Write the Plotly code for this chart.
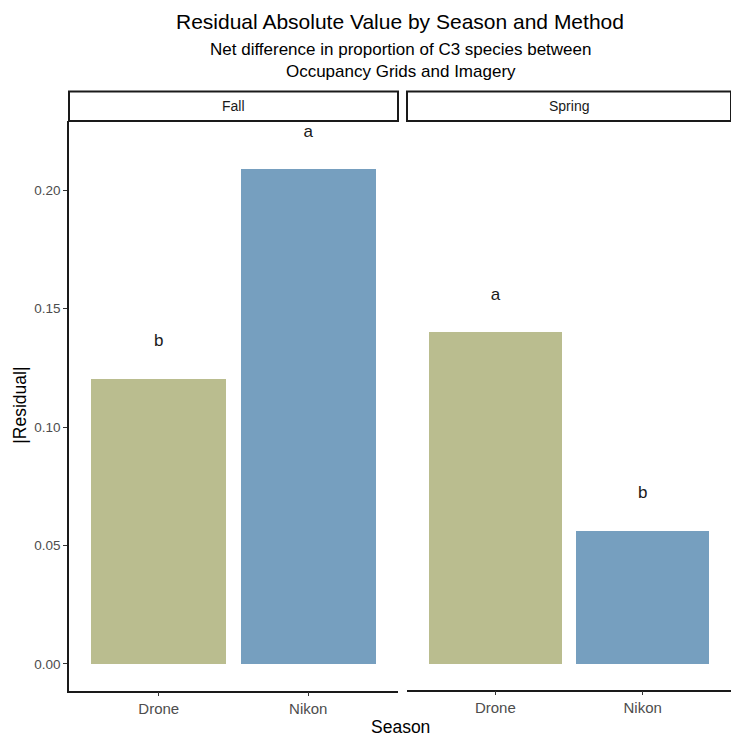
import plotly.graph_objects as go

# Mean absolute residuals by season and imaging method
seasons = ["Fall", "Spring"]
methods = ["Drone", "Nikon"]
residual_fall = [0.1205, 0.2089]
residual_spring = [0.1400, 0.0563]
letters_fall = ["b", "a"]
letters_spring = ["a", "b"]
label_offset = 0.0155

method_colors = {"Drone": "#BABD8F", "Nikon": "#769FBF"}

W, H = 731, 736


def px_x(p):
    return p / W


def px_y(p):
    return 1 - p / H


panel_top, panel_bottom = 121, 690.5
domains = [(px_x(69), px_x(398)), (px_x(407), 1.0)]
ydom = [px_y(panel_bottom), px_y(panel_top)]

fig = go.Figure()
font_family = "Liberation Sans, Arial, sans-serif"

series = [residual_fall, residual_spring]
letters = [letters_fall, letters_spring]
for i, season in enumerate(seasons):
    xa = "x" if i == 0 else "x2"
    fig.add_trace(go.Bar(
        x=methods, y=series[i], width=0.9,
        marker=dict(color=[method_colors[m] for m in methods], line=dict(width=0)),
        xaxis=xa, yaxis="y", showlegend=False, hoverinfo="x+y",
    ))
    fig.add_trace(go.Scatter(
        x=methods, y=[v + label_offset for v in series[i]],
        text=letters[i], mode="text", textposition="middle center",
        textfont=dict(size=17, color="#1a1a1a", family=font_family),
        xaxis=xa, yaxis="y", showlegend=False, hoverinfo="skip",
    ))

axis_common = dict(
    showline=True, linecolor="#1a1a1a", linewidth=1.5, mirror=False,
    ticks="outside", ticklen=4, tickcolor="#333333", tickwidth=1,
    showgrid=False, zeroline=False,
)
xtickfont = dict(size=15, color="#4D4D4D", family=font_family)
ytickfont = dict(size=13.5, color="#4D4D4D", family=font_family)

fig.update_layout(
    width=W, height=H,
    margin=dict(l=0, r=0, t=0, b=0),
    plot_bgcolor="white", paper_bgcolor="white",
    bargap=0,
    xaxis=dict(domain=list(domains[0]), anchor="y", range=[-0.6, 1.6],
               type="category", tickfont=xtickfont, **axis_common),
    xaxis2=dict(domain=list(domains[1]), anchor="free", position=ydom[0],
                range=[-0.6, 1.6], type="category", tickfont=xtickfont,
                **axis_common),
    yaxis=dict(domain=ydom, anchor="x", range=[-0.0112, 0.2292],
               tickvals=[0, 0.05, 0.10, 0.15, 0.20],
               ticktext=["0.00", "0.05", "0.10", "0.15", "0.20"],
               tickfont=ytickfont, **axis_common),
)


def label(x, y, text, size, color="black", angle=0):
    fig.add_annotation(xref="paper", yref="paper", x=x, y=y, text=text,
                       showarrow=False, xanchor="center", yanchor="middle",
                       textangle=angle,
                       font=dict(size=size, color=color, family=font_family))


# Facet strips
strip_top, strip_bottom = 91.5, 121
for (x0, x1), season in zip(domains, seasons):
    fig.add_shape(type="rect", xref="paper", yref="paper",
                  x0=x0, x1=x1, y0=px_y(strip_bottom), y1=px_y(strip_top),
                  line=dict(color="#1a1a1a", width=2), fillcolor="white",
                  layer="above")
    label((x0 + x1) / 2, px_y((strip_top + strip_bottom) / 2), season, 14,
          color="#1a1a1a")

center_x = px_x((69 + 731) / 2)
label(center_x, px_y(22), "Residual Absolute Value by Season and Method", 21)
label(center_x, px_y(61),
      "Net difference in proportion of C3 species between<br>Occupancy Grids and Imagery",
      17)
label(center_x, px_y(727), "Season", 17.5)
label(px_x(20), px_y((panel_top + panel_bottom) / 2), "|Residual|", 17.5,
      angle=-90)

fig.write_html("out.html")
